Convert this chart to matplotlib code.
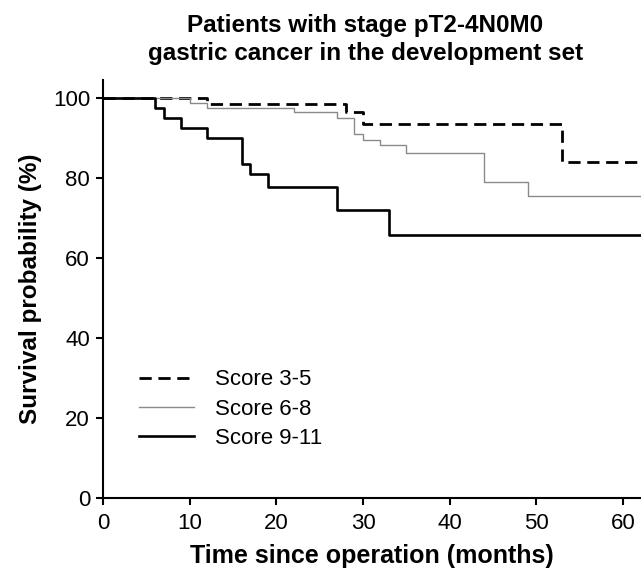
import matplotlib
matplotlib.use("Agg")
import matplotlib.pyplot as plt

plt.rcParams["font.family"] = ["Liberation Sans", "DejaVu Sans"]

# Kaplan-Meier steps (months, survival %)
t_35 = [0, 12, 28, 30, 53, 62.1]
s_35 = [100, 98.6, 96.6, 93.5, 84.2, 84.2]

t_68 = [0, 10, 12, 22, 27, 29, 30, 32, 35, 44, 49, 62.1]
s_68 = [100, 98.8, 97.7, 96.5, 95.2, 91.2, 89.7, 88.3, 86.4, 79.2, 75.7, 75.7]

t_911 = [0, 6, 7, 9, 12, 16, 17, 19, 27, 33, 62.1]
s_911 = [100, 97.6, 95.2, 92.7, 90.2, 83.7, 81.0, 77.9, 72.1, 65.8, 65.8]

labels = ["Score 3-5", "Score 6-8", "Score 9-11"]
x_ticks = [0, 10, 20, 30, 40, 50, 60]
y_ticks = [0, 20, 40, 60, 80, 100]

fig = plt.figure(figsize=(6.41, 5.71), dpi=100)
ax = fig.add_axes([0.161, 0.127, 0.839, 0.733])

ax.step(t_35, s_35, where="post", color="black", lw=2.0, ls=(0, (4.4, 2.4)), label=labels[0])
ax.step(t_68, s_68, where="post", color="#8a8a8a", lw=1.0, label=labels[1])
ax.step(t_911, s_911, where="post", color="black", lw=1.9, label=labels[2])

ax.set_xlim(0, 62.1)
ax.set_ylim(0, 104.6)
ax.set_xticks(x_ticks)
ax.set_yticks(y_ticks)
ax.spines["top"].set_visible(False)
ax.spines["right"].set_visible(False)
ax.spines["left"].set_linewidth(1.5)
ax.spines["bottom"].set_linewidth(1.5)
ax.tick_params(direction="out", length=5, width=1.5, labelsize=16)
ax.tick_params(axis="x", pad=5.5)
ax.tick_params(axis="y", pad=4.5)

ax.set_xlabel("Time since operation (months)", fontsize=18, fontweight="bold", labelpad=7)
ax.set_ylabel("Survival probability (%)", fontsize=17.5, fontweight="bold", labelpad=8)
ax.set_title("Patients with stage pT2-4N0M0\ngastric cancer in the development set",
             fontsize=17.5, fontweight="bold", pad=14, x=0.487, linespacing=1.3)

ax.legend(loc="upper left", bbox_to_anchor=(0.045, 0.335), frameon=False, fontsize=16,
          handlelength=2.5, handletextpad=0.95, labelspacing=0.38, borderpad=0)

fig.savefig("out.png", dpi=100)
